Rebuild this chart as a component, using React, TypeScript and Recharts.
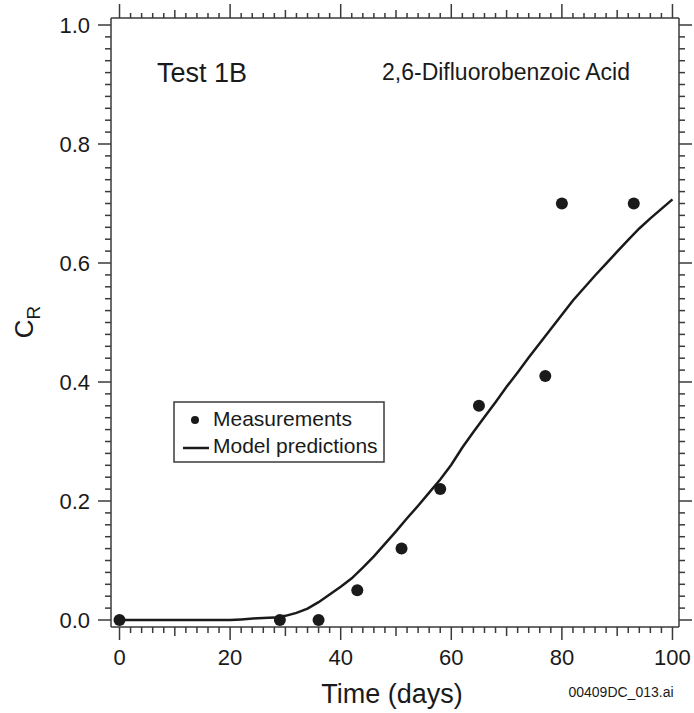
import React from 'react'
import { ComposedChart, XAxis, YAxis, Line, Scatter } from 'recharts'

// measured relative concentration
const measTime = [0, 29, 36, 43, 51, 58, 65, 77, 80, 93]
const measCR = [0, 0, 0, 0.05, 0.12, 0.22, 0.36, 0.41, 0.7, 0.7]

// model curve
const modelTime = [0, 10, 20, 22, 25, 28, 30, 32, 34, 36, 38, 40, 42, 44, 46, 48, 50, 52, 54, 56, 58, 60, 62, 64, 66, 68, 70, 72, 74, 76, 78, 80, 82, 84, 86, 88, 90, 92, 94, 96, 98, 100]
const modelCR = [0, 0, 0, 0.001, 0.003, 0.004, 0.007, 0.012, 0.019, 0.03, 0.043, 0.056, 0.07, 0.088, 0.107, 0.128, 0.149, 0.171, 0.192, 0.214, 0.236, 0.261, 0.29, 0.316, 0.341, 0.366, 0.392, 0.416, 0.441, 0.465, 0.489, 0.513, 0.537, 0.558, 0.579, 0.599, 0.619, 0.639, 0.658, 0.675, 0.691, 0.707]

const xTicks = Array.from({ length: 51 }, (_, i) => i * 2)
const yTicks = Array.from({ length: 51 }, (_, i) => Math.round(i * 2) / 100)

const measData = measTime.map((t, i) => ({ x: t, y: measCR[i] }))
const modelData = modelTime.map((t, i) => ({ x: t, y: modelCR[i] }))

const FONT = '"Liberation Sans", Arial, sans-serif'
const INK = '#1a1a1a'
const AX = '#3a3a3a'

const isMult = (v: number, m: number) => Math.abs(v / m - Math.round(v / m)) < 1e-6

const BottomTick = (p: any) => {
  const v = p.payload.value
  const len = isMult(v, 20) ? 13 : isMult(v, 10) ? 9 : 6
  return (
    <g>
      <line x1={p.x} x2={p.x} y1={p.y} y2={p.y + len} stroke={AX} strokeWidth={1.5} />
      {isMult(v, 20) && (
        <text x={p.x} y={p.y + 38} textAnchor="middle" fontFamily={FONT} fontSize={22} fill={INK}>{v}</text>
      )}
    </g>
  )
}

const TopTick = (p: any) => {
  const v = p.payload.value
  const len = isMult(v, 20) ? 14 : isMult(v, 10) ? 8 : 5
  return <line x1={p.x} x2={p.x} y1={p.y} y2={p.y - len} stroke={AX} strokeWidth={1.5} />
}

const LeftTick = (p: any) => {
  const v = p.payload.value
  const major = isMult(v, 0.2)
  return (
    <g>
      <line x1={p.x} x2={p.x - (major ? 13 : 6)} y1={p.y} y2={p.y} stroke={AX} strokeWidth={1.5} />
      {major && (
        <text x={p.x - 21} y={p.y + 8} textAnchor="end" fontFamily={FONT} fontSize={22} fill={INK}>{v.toFixed(1)}</text>
      )}
    </g>
  )
}

const RightTick = (p: any) => {
  const v = p.payload.value
  const major = isMult(v, 0.2)
  return <line x1={p.x} x2={p.x + (major ? 13 : 6)} y1={p.y} y2={p.y} stroke={AX} strokeWidth={1.5} />
}

const Dot = (p: any) => <circle cx={p.cx} cy={p.cy} r={6} fill={INK} />

const App = () => {
  return (
    <div style={{ position: 'absolute', left: 0, top: 0, width: 694, height: 713, background: '#fff' }}>
      <ComposedChart width={694} height={713} margin={{ top: 0, right: 0, bottom: 0, left: 0 }}>
        <XAxis xAxisId="b" dataKey="x" type="number" orientation="bottom" height={86}
          domain={[-1.54, 101.18]} ticks={xTicks} interval={0} tickSize={0} tickMargin={0}
          tick={<BottomTick />} axisLine={{ stroke: AX, strokeWidth: 1.5 }} allowDataOverflow />
        <XAxis xAxisId="t" dataKey="x" type="number" orientation="top" height={18}
          domain={[-1.54, 101.18]} ticks={xTicks} interval={0} tickSize={0} tickMargin={0}
          tick={<TopTick />} axisLine={{ stroke: AX, strokeWidth: 1.5 }} allowDataOverflow />
        <YAxis yAxisId="l" dataKey="y" type="number" orientation="left" width={111}
          domain={[-0.01176, 1.01176]} ticks={yTicks} interval={0} tickSize={0} tickMargin={0}
          tick={<LeftTick />} axisLine={{ stroke: AX, strokeWidth: 1.5 }} allowDataOverflow />
        <YAxis yAxisId="r" dataKey="y" type="number" orientation="right" width={15}
          domain={[-0.01176, 1.01176]} ticks={yTicks} interval={0} tickSize={0} tickMargin={0}
          tick={<RightTick />} axisLine={{ stroke: AX, strokeWidth: 1.5 }} allowDataOverflow />
        <Line xAxisId="b" yAxisId="l" data={modelData} dataKey="y" type="linear" stroke={INK}
          strokeWidth={2.5} dot={false} activeDot={false} isAnimationActive={false} name="Model predictions" />
        <Scatter xAxisId="b" yAxisId="l" data={measData} dataKey="y" fill={INK} shape={<Dot />}
          isAnimationActive={false} name="Measurements" />
      </ComposedChart>
      <svg width={694} height={713} style={{ position: 'absolute', left: 0, top: 0, pointerEvents: 'none' }}>
        <text x={157} y={82} fontFamily={FONT} fontSize={27} fill={INK}>Test 1B</text>
        <text x={382} y={80} fontFamily={FONT} fontSize={23} fill={INK}>2,6-Difluorobenzoic Acid</text>
        <text transform="rotate(-90, 33, 322)" x={33} y={322} textAnchor="middle" fontFamily={FONT} fill={INK}>
          <tspan fontSize={26}>C</tspan>
          <tspan fontSize={19} dy={7}>R</tspan>
        </text>
        <text x={392} y={703} textAnchor="middle" fontFamily={FONT} fontSize={27} fill={INK}>Time (days)</text>
        <text x={621} y={697} textAnchor="middle" fontFamily={FONT} fontSize={14} fill={INK}>00409DC_013.ai</text>
        <g transform="translate(173, 401)">
          <rect x={1} y={1} width={210} height={60} fill="#fff" stroke={AX} strokeWidth={1.5} />
          <circle cx={22} cy={19} r={4} fill={INK} />
          <text x={40} y={25} fontFamily={FONT} fontSize={21} fill={INK}>Measurements</text>
          <line x1={10} x2={36} y1={47} y2={47} stroke={INK} strokeWidth={2.5} />
          <text x={40} y={52} fontFamily={FONT} fontSize={21} fill={INK}>Model predictions</text>
        </g>
      </svg>
    </div>
  )
}

export default App
